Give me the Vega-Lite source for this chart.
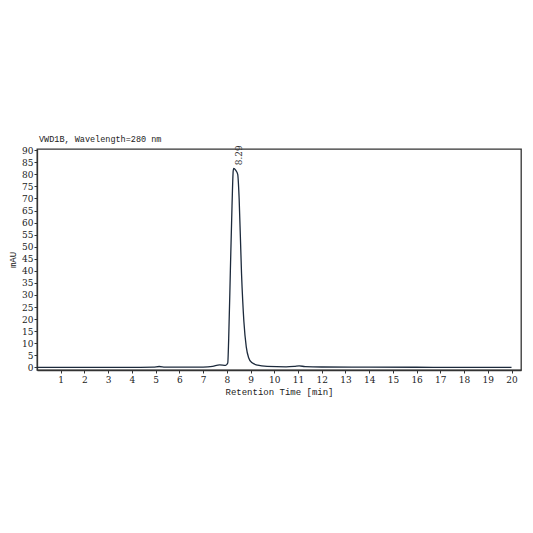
{
  "$schema": "https://vega.github.io/schema/vega-lite/v6.json",
  "width": 484,
  "height": 221,
  "autosize": {"type": "none"},
  "padding": {"left": 37, "top": 149, "right": 12, "bottom": 163},
  "background": "white",
  "config": {
    "view": {"stroke": "#333333", "strokeWidth": 1.3},
    "font": "DejaVu Serif",
    "axis": {"grid": false, "domainColor": "#333333", "tickColor": "#333333", "labelColor": "#222222", "titleColor": "#222222", "titleFontWeight": "normal", "tickSize": 3, "domainWidth": 1.3, "labelOverlap": false, "labelFont": "DejaVu Serif", "labelFontSize": 9, "titleFont": "Liberation Mono", "titleFontSize": 9}
  },
  "title": {"text": "VWD1B, Wavelength=280 nm", "anchor": "start", "frame": "group", "offset": 2, "font": "Liberation Mono", "fontSize": 8.5, "fontWeight": "normal", "color": "#222222", "dx": 2},
  "data": {"values": [
    {"t": 0.0, "v": 0.0},
    {"t": 1.0, "v": 0.0},
    {"t": 2.0, "v": 0.0},
    {"t": 3.0, "v": 0.0},
    {"t": 4.0, "v": 0.0},
    {"t": 4.9, "v": 0.05},
    {"t": 5.15, "v": 0.35},
    {"t": 5.4, "v": 0.1},
    {"t": 6.0, "v": 0.05},
    {"t": 7.0, "v": 0.1},
    {"t": 7.4, "v": 0.4},
    {"t": 7.7, "v": 1.0},
    {"t": 7.95, "v": 0.8},
    {"t": 8.04, "v": 1.8},
    {"t": 8.08, "v": 12.0},
    {"t": 8.15, "v": 40.0},
    {"t": 8.22, "v": 67.0},
    {"t": 8.27, "v": 81.5},
    {"t": 8.29, "v": 82.5},
    {"t": 8.38, "v": 81.6},
    {"t": 8.46, "v": 80.0},
    {"t": 8.52, "v": 70.0},
    {"t": 8.62, "v": 39.0},
    {"t": 8.72, "v": 19.0},
    {"t": 8.82, "v": 8.5},
    {"t": 8.92, "v": 4.0},
    {"t": 9.05, "v": 2.0},
    {"t": 9.3, "v": 0.9},
    {"t": 9.7, "v": 0.4},
    {"t": 10.5, "v": 0.2},
    {"t": 10.85, "v": 0.4},
    {"t": 11.05, "v": 0.6},
    {"t": 11.3, "v": 0.3},
    {"t": 12.0, "v": 0.15},
    {"t": 14.0, "v": 0.1},
    {"t": 16.0, "v": 0.05},
    {"t": 18.0, "v": 0.0},
    {"t": 20.0, "v": 0.0}
  ]},
  "encoding": {
    "x": {"field": "t", "type": "quantitative", "scale": {"domain": [0, 20.4], "nice": false, "zero": false},
      "axis": {"values": [1,2,3,4,5,6,7,8,9,10,11,12,13,14,15,16,17,18,19,20], "tickCount": 20, "labelOverlap": false, "title": "Retention Time [min]", "labelPadding": 2, "titlePadding": 3, "labelFlush": false}},
    "y": {"field": "v", "type": "quantitative", "scale": {"domain": [-1.1, 90.5], "nice": false, "zero": false},
      "axis": {"values": [0,5,10,15,20,25,30,35,40,45,50,55,60,65,70,75,80,85,90], "tickCount": 19, "labelOverlap": false, "title": "mAU", "labelPadding": 1, "titlePadding": 4, "labelFlush": false}}
  },
  "layer": [
    {
      "mark": {"type": "line", "color": "#1c2a3c", "strokeWidth": 1.3, "interpolate": "monotone", "clip": true}
    },
    {
      "data": {"values": [{"t": 8.29, "v": 82.5, "label": "8.29"}]},
      "mark": {"type": "text", "angle": 270, "align": "left", "baseline": "middle", "dx": 3, "dy": 5, "fontSize": 9, "font": "DejaVu Serif", "color": "#333333"},
      "encoding": {
        "text": {"field": "label", "type": "nominal"}
      }
    }
  ]
}
